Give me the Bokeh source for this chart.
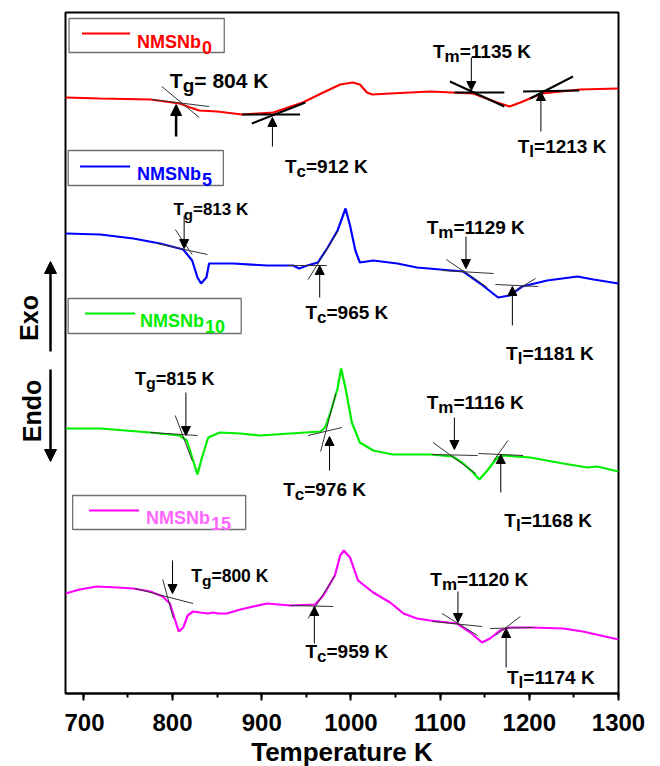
import math

from bokeh.core.properties import value
from bokeh.embed import file_html
from bokeh.layouts import row
from bokeh.models import Arrow, NormalHead, Range1d, SingleIntervalTicker
from bokeh.plotting import figure
from bokeh.resources import INLINE

# ---- DSC traces: temperature (K) and heat flow (a.u., traces stacked) ----
t_nb0 = [680, 719, 775, 808, 820, 830, 850, 878, 913, 946, 969, 988, 1002, 1010,
         1018, 1024, 1044, 1089, 1137, 1164, 1178, 1190, 1214, 1257, 1300]
hf_nb0 = [59.6, 59.5, 59.4, 59.0, 58.6, 58.3, 58.2, 57.9, 58.1, 59.1, 60.1, 60.9, 61.1,
          60.9, 60.1, 59.9, 60.0, 60.2, 60.0, 59.1, 58.7, 59.1, 60.0, 60.4, 60.5]

t_nb5 = [680, 719, 756, 786, 812, 822, 828, 832, 838, 841, 846, 868, 906, 935, 942, 951,
         963, 974, 985, 994, 999, 1005, 1010, 1025, 1052, 1074, 1100, 1126, 1145, 1165,
         1178, 1192, 1220, 1254, 1272, 1300]
hf_nb5 = [46.0, 45.9, 45.5, 45.0, 44.4, 43.3, 41.6, 41.0, 41.6, 43.0, 43.0, 43.0, 42.8,
          42.8, 42.5, 42.8, 43.1, 44.6, 46.3, 48.5, 46.8, 44.3, 43.1, 43.3, 43.0, 42.6,
          42.4, 42.2, 41.0, 39.6, 39.8, 40.7, 41.3, 41.7, 41.4, 41.0]

t_nb10 = [680, 719, 775, 808, 816, 822, 828, 833, 840, 853, 876, 898, 932, 966, 971, 977,
          985, 989, 994, 1001, 1010, 1025, 1047, 1089, 1114, 1126, 1137, 1144, 1153, 1164,
          1171, 1201, 1238, 1265, 1276, 1300]
hf_nb10 = [26.5, 26.5, 26.1, 25.8, 25.3, 23.6, 21.9, 23.6, 25.6, 26.1, 26.0, 25.8, 26.0,
           26.2, 26.6, 28.1, 30.5, 32.5, 30.5, 27.1, 25.1, 24.3, 23.9, 23.9, 23.7, 23.0,
           22.1, 21.4, 22.3, 23.6, 23.8, 23.6, 23.0, 22.6, 22.7, 22.2]

t_nb15 = [680, 696, 715, 738, 756, 775, 789, 797, 803, 807, 812, 817, 823, 831, 840, 846,
          851, 861, 876, 906, 932, 960, 969, 982, 988, 992, 999, 1008, 1025, 1044, 1059,
          1074, 1089, 1119, 1134, 1147, 1156, 1167, 1178, 1201, 1238, 1260, 1300]
hf_nb15 = [10.0, 10.4, 10.7, 10.6, 10.5, 10.2, 9.7, 9.0, 7.3, 6.2, 6.6, 7.8, 8.2, 8.1,
           8.0, 8.1, 8.0, 8.0, 8.4, 9.0, 8.8, 8.9, 9.8, 11.8, 13.8, 14.3, 13.6, 11.3,
           10.1, 9.1, 8.0, 7.5, 7.3, 7.0, 6.1, 5.1, 5.5, 6.3, 6.6, 6.6, 6.5, 6.2, 5.4]

series_names = ["0", "5", "10", "15"]
series_colors = ["#ff0000", "#0000ff", "#00ee00", "#ff00ff"]
legend_text_colors = ["#ff0000", "#0000ff", "#00ee00", "#ff66ff"]

# ---- characteristic temperatures (K) ----
tg = [804, 813, 815, 800]
tc = [912, 965, 976, 959]
tm = [1135, 1129, 1116, 1120]
tl = [1213, 1181, 1168, 1174]

# arrow tail / tip heat-flow levels for each event, per trace (Tg, Tc, Tm, Tl)
arrow_tail = [[55.7, 54.7, 63.6, 56.2], [47.8, 39.6, 45.7, 36.8],
              [30.1, 22.3, 27.6, 20.1], [13.3, 5.0, 10.2, 2.6]]
arrow_tip = [[58.9, 57.6, 60.3, 60.2], [44.5, 42.8, 42.5, 40.7],
             [25.8, 25.7, 24.4, 23.9], [10.0, 8.7, 7.1, 6.5]]

# onset construction lines (T0, hf0, T1, hf1), two per event
tangents = [
    [(788, 60.7, 830, 57.6), (777, 59.4, 841, 58.7),
     (878, 57.9, 943, 57.9), (889, 57.0, 949, 59.1),
     (1116, 60.1, 1172, 60.1), (1111, 61.2, 1172, 58.7),
     (1193, 60.2, 1256, 60.3), (1201, 59.5, 1249, 61.7)],
    [(803, 46.4, 822, 43.9), (783, 45.0, 839, 43.9),
     (929, 42.8, 973, 42.8), (952, 41.4, 986, 46.3),
     (1102, 42.3, 1160, 42.0), (1107, 43.4, 1153, 40.6),
     (1162, 40.9, 1210, 40.7), (1179, 40.0, 1207, 41.5)],
    [(775, 26.1, 828, 25.8), (803, 27.8, 822, 23.3),
     (952, 25.8, 990, 26.6), (966, 24.2, 983, 30.0),
     (1091, 23.9, 1142, 23.8), (1092, 25.1, 1140, 22.0),
     (1143, 24.0, 1193, 23.8), (1160, 23.3, 1176, 25.3)],
    [(758, 10.5, 823, 9.0), (789, 11.4, 801, 7.5),
     (932, 8.8, 980, 8.7), (952, 7.5, 982, 11.8),
     (1091, 7.2, 1147, 6.7), (1102, 8.0, 1142, 5.8),
     (1156, 6.5, 1204, 6.6), (1162, 5.8, 1190, 7.7)],
]

# label anchors (left edge of "T", baseline) per trace, for Tg, Tc, Tm, Tl
label_pos = [[(797, 61.3), (926, 52.7), (1092, 64.2), (1187, 54.7)],
             [(801, 48.4), (949, 38.1), (1085, 46.6), (1174, 34.0)],
             [(758, 31.5), (924, 20.4), (1085, 29.1), (1172, 17.3)],
             [(821, 11.8), (949, 4.2), (1089, 11.4), (1175, 1.6)]]
# label font sizes (px) per trace, for Tg, Tc, Tm, Tl
label_size = [[21, 19, 19, 19], [17, 19, 19, 19],
              [18, 19, 19, 19], [17.5, 19, 19, 19]]

# legend boxes: (left, right, bottom, top), sample line (x0, x1, y), text anchor
legend_box = [(684, 858, 64.1, 67.5), (683, 857, 50.8, 54.3),
              (683, 877, 36.0, 39.5), (688, 882, 16.4, 19.8)]
legend_line = [(698.5, 752.4, 66.0), (696.3, 752.4, 52.7),
               (701.9, 758.0, 38.0), (706.4, 762.5, 18.3)]
legend_text = [(760.2, 65.2), (760.2, 52.0), (763.6, 37.3), (770.3, 17.6)]

FONT = "Liberation Sans"
ADV = {"T": 0.611, "g": 0.611, "c": 0.556, "m": 0.889, "l": 0.278,
       "N": 0.722, "M": 0.833, "S": 0.667, "b": 0.611}

# ---------------- main DSC panel ----------------
p = figure(frame_width=553, frame_height=681, output_backend="svg",
           toolbar_location=None,
           x_range=Range1d(680, 1300), y_range=Range1d(0, 68.1),
           y_axis_location=None,
           min_border_left=1, min_border_right=42, min_border_top=12,
           min_border_bottom=0)
p.title.visible = False
p.grid.visible = False
p.outline_line_color = "black"
p.outline_line_width = 2
p.background_fill_color = "white"
p.border_fill_color = "white"

xa = p.xaxis[0]
xa.ticker = SingleIntervalTicker(interval=100, num_minor_ticks=2)
xa.axis_line_width = 2
xa.major_tick_line_width = 2
xa.minor_tick_line_width = 2
xa.major_tick_in = 0
xa.major_tick_out = 7
xa.minor_tick_in = 0
xa.minor_tick_out = 4
xa.major_label_text_font = FONT
xa.major_label_text_font_style = "bold"
xa.major_label_text_font_size = "24px"
xa.major_label_text_color = "black"
xa.major_label_standoff = 13
xa.axis_label = "Temperature K"
xa.axis_label_text_font = FONT
xa.axis_label_text_font_style = "bold"
xa.axis_label_text_font_size = "26px"
xa.axis_label_text_color = "black"
xa.axis_label_standoff = 3


def text_piece(fig, x, y, s, size, dx=0, dy=0, color="black", angle=0.0,
               align="left", baseline="alphabetic"):
    fig.text(x=[x], y=[y], text=[s], x_offset=dx, y_offset=dy, angle=angle,
             text_font=value(FONT), text_font_style="bold",
             text_font_size=f"{size}px", text_color=color,
             text_align=align, text_baseline=baseline)


# legend boxes first, so the traces and texts sit on top
for i in range(4):
    l, r, b, t = legend_box[i]
    p.quad(left=[l], right=[r], bottom=[b], top=[t], fill_color="white",
           line_color="#707070", line_width=1.3)
    x0, x1, yl = legend_line[i]
    p.line([x0, x1], [yl, yl], line_color=series_colors[i], line_width=2)
    tx, ty = legend_text[i]
    text_piece(p, tx, ty, "NMSNb", 18, color=legend_text_colors[i])
    w_main = sum(ADV[ch] for ch in "NMSNb") * 18
    text_piece(p, tx, ty, series_names[i], 18, dx=w_main + 1, dy=6,
               color=legend_text_colors[i])

# traces
for t, hf, c in zip([t_nb0, t_nb5, t_nb10, t_nb15],
                    [hf_nb0, hf_nb5, hf_nb10, hf_nb15], series_colors):
    p.line(t, hf, line_color=c, line_width=2.2)

# onset construction lines
for i, segs in enumerate(tangents):
    for j, (x0, y0, x1, y1) in enumerate(segs):
        thick = (i == 0 and j >= 2)
        p.segment(x0=[x0], y0=[y0], x1=[x1], y1=[y1],
                  line_color="black" if thick else "#333333",
                  line_width=2 if thick else 1)


def event_label(x, y, sub, rest, size):
    sub_size = size - 2
    w_t = ADV["T"] * size
    text_piece(p, x, y, "T", size)
    text_piece(p, x, y, sub, sub_size, dx=w_t, dy=5)
    text_piece(p, x, y, rest, size, dx=w_t + ADV[sub] * sub_size)


subs = ["g", "c", "m", "l"]
for i in range(4):
    temps = [tg[i], tc[i], tm[i], tl[i]]
    for j in range(4):
        first = (i == 0 and j == 0)
        p.add_layout(Arrow(
            x_start=temps[j], y_start=arrow_tail[i][j],
            x_end=temps[j], y_end=arrow_tip[i][j],
            line_width=2.5 if first else 1, line_color="black",
            end=NormalHead(size=11 if first else 9, fill_color="black",
                           line_color="black", line_width=1)))
        lx, ly = label_pos[i][j]
        gap = " " if first else ""
        event_label(lx, ly, subs[j], f"={gap}{temps[j]} K", label_size[i][j])

# ---------------- left strip: Exo / Endo direction ----------------
# coordinates here count pixels up from the bottom of the strip
side = figure(frame_width=64, frame_height=766, output_backend="svg",
              toolbar_location=None,
              x_range=Range1d(0, 64), y_range=Range1d(0, 766),
              x_axis_location=None, y_axis_location=None, min_border=0)
side.title.visible = False
side.grid.visible = False
side.outline_line_color = None
side.background_fill_color = "white"
side.border_fill_color = "white"
text_piece(side, 28, 460.5, "Exo", 25, angle=math.pi / 2, align="center",
           baseline="middle")
text_piece(side, 31, 367.5, "Endo", 25, angle=math.pi / 2, align="center",
           baseline="middle")
side.add_layout(Arrow(x_start=50, y_start=427, x_end=50, y_end=517,
                      line_width=2.5, line_color="black",
                      end=NormalHead(size=12, fill_color="black", line_color="black")))
side.add_layout(Arrow(x_start=50, y_start=409, x_end=50, y_end=317,
                      line_width=2.5, line_color="black",
                      end=NormalHead(size=12, fill_color="black", line_color="black")))

layout = row(side, p, spacing=0)
open("out.html", "w").write(file_html(layout, INLINE))
